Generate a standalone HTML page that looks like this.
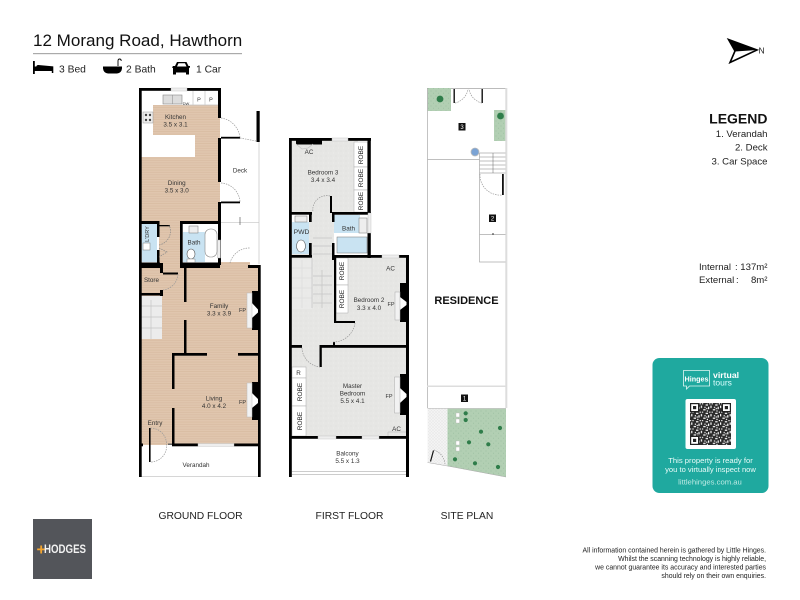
<!DOCTYPE html>
<html><head><meta charset="utf-8"><style>
html,body{margin:0;padding:0;background:#fff}
svg{display:block}
text{font-family:"Liberation Sans",sans-serif;fill:#222}
.r{font-size:6.3px;text-anchor:middle;fill:#333}
.w{fill:#000}
.d{fill:none;stroke:#999;stroke-width:.7;stroke-dasharray:1.5 1}
.t{stroke:#c4c4c4;stroke-width:.7;fill:none}
</style></head><body>
<svg width="800" height="600" viewBox="0 0 800 600" xmlns="http://www.w3.org/2000/svg">
<defs>
<pattern id="wood" width="4" height="2.4" patternUnits="userSpaceOnUse"><rect width="4" height="2.4" fill="#e0c6ae"/><rect y="1.7" width="4" height=".7" fill="#d8bba1"/></pattern>
<pattern id="carpet" width="5" height="5" patternUnits="userSpaceOnUse"><rect width="5" height="5" fill="#e6e6e4"/><circle cx="1" cy="1" r=".5" fill="#dcdcda"/><circle cx="3.5" cy="3" r=".5" fill="#eeeeec"/></pattern>
<pattern id="grass" width="5" height="5" patternUnits="userSpaceOnUse"><rect width="5" height="5" fill="#b2cfb3"/><circle cx="1" cy="1" r=".5" fill="#98bb9c"/><circle cx="3.5" cy="3.2" r=".5" fill="#9cc0a0"/></pattern>
<pattern id="grav" width="3" height="3" patternUnits="userSpaceOnUse"><rect width="3" height="3" fill="#f3f3f3"/><circle cx="1" cy="1" r=".4" fill="#bbb"/><circle cx="2.4" cy="2.3" r=".3" fill="#ccc"/></pattern>
<pattern id="qr" width="9.6" height="8.4" patternUnits="userSpaceOnUse"><rect width="9.6" height="8.4" fill="#2a2a2a"/><g fill="#fff"><rect x="1.2" y="0" width="1.2" height="1.2"/><rect x="4.8" y="1.2" width="2.4" height="1.2"/><rect x="0" y="2.4" width="1.2" height="2.4"/><rect x="3.6" y="3.6" width="1.2" height="1.2"/><rect x="7.2" y="3.6" width="1.2" height="2.4"/><rect x="2.4" y="6" width="2.4" height="1.2"/><rect x="6" y="7.2" width="1.2" height="1.2"/><rect x="8.4" y="0" width="1.2" height="1.2"/><rect x="5.4" y="4.8" width="1.2" height="1.2"/></g></pattern>
</defs>

<!-- header -->
<text x="33" y="46" style="font-size:17.05px;fill:#111">12 Morang Road, Hawthorn</text>
<rect x="33" y="53" width="209" height="1.2" fill="#aaa"/>
<g fill="#000">
<path d="M33 61h1.8v5.5h1.5a2 2 0 0 1 2-1.5l15 1.4v6.6h-1.5v-2H34.8v3H33z"/>
<path d="M103 66.5h19v2q-.5 4.5-5 5h-9q-4.5-.5-5-5z"/><path d="M118 66v-5q0-2 1.6-2t1.6 2" fill="none" stroke="#000" stroke-width=".9"/>
<path d="M173 66h2l2-4h9.500l2 4h1.500v1.500l-1 .5v6.500h-3v-2h-10v2h-3v-6.500l-1-.5zM178.500 63.200l-1.500 3.300h9.500l-1.500-3.300z" fill-rule="evenodd"/>
</g>
<text x="59" y="72.7" style="font-size:10.3px">3 Bed</text>
<text x="126" y="72.7" style="font-size:10.3px">2 Bath</text>
<text x="196" y="72.7" style="font-size:10.3px">1 Car</text>

<!-- north -->
<path d="M728.5 39.5 L757 50 L730 62.5 L735 51 Z" fill="#fff" stroke="#000" stroke-width="1.6"/>
<path d="M728 39 L757 50 L735 51.5 Z" fill="#000"/>
<text x="758.5" y="53.5" style="font-size:8.5px">N</text>

<!-- legend -->
<text x="767.5" y="123.5" text-anchor="end" style="font-size:14px;font-weight:bold;fill:#111">LEGEND</text>
<text x="767.5" y="137" text-anchor="end" style="font-size:9.6px">1. Verandah</text>
<text x="767.5" y="150.5" text-anchor="end" style="font-size:9.6px">2. Deck</text>
<text x="767.5" y="164.5" text-anchor="end" style="font-size:9.6px">3. Car Space</text>
<text x="699" y="270" style="font-size:9.6px">Internal</text><text x="735" y="270" style="font-size:9.6px">:</text><text x="767.5" y="270" text-anchor="end" style="font-size:9.6px">137m²</text>
<text x="699" y="283" style="font-size:9.6px">External</text><text x="736" y="283" style="font-size:9.6px">:</text><text x="767.5" y="283" text-anchor="end" style="font-size:9.6px">8m²</text>

<!-- GROUND FLOOR -->
<rect x="153" y="105" width="67" height="30" fill="url(#wood)"/>
<rect x="195" y="135" width="25" height="22" fill="url(#wood)"/>
<rect x="141" y="157" width="79" height="65" fill="url(#wood)"/>
<rect x="159" y="222" width="21" height="46" fill="url(#wood)"/>
<rect x="142" y="224" width="15" height="38" fill="#c9e3f2"/>
<rect x="183" y="232" width="22" height="30" fill="#c9e3f2"/>
<rect x="141" y="265" width="117" height="180" fill="url(#wood)"/>
<rect x="218" y="262" width="32" height="6" fill="url(#wood)"/>
<rect x="141" y="296" width="21" height="43" fill="#ececec"/>
<path d="M141 306h21M141 317h21M141 328h21M151 300v39" class="t"/>
<rect x="141" y="446" width="117" height="30" fill="#fff"/>
<rect x="141" y="476" width="117" height=".8" fill="#ccc"/>
<g class="w">
<rect x="139" y="88" width="2.7" height="389"/>
<rect x="139" y="88" width="32" height="2.8"/><rect x="187" y="88" width="34" height="2.8"/>
<rect x="218" y="88" width="3" height="30"/><rect x="218" y="138" width="3" height="44"/><rect x="218" y="202" width="3" height="63"/>
<rect x="221" y="136.8" width="19" height="1.8"/><rect x="221" y="201.5" width="19" height="1.8"/>
<rect x="141" y="221" width="18" height="3"/><rect x="180" y="221" width="41" height="3"/>
<rect x="157" y="221" width="2.5" height="16"/><rect x="157" y="250" width="2.5" height="14"/>
<rect x="159" y="225" width="11" height="1.3"/>
<rect x="180" y="221" width="2.7" height="47"/>
<rect x="141" y="262.5" width="19" height="2.5"/><rect x="182" y="262.5" width="39" height="2.5"/>
<rect x="141" y="265" width="21" height="3"/><rect x="182" y="265" width="38" height="3"/><rect x="248" y="265" width="12" height="3"/>
<rect x="258" y="265" width="2.7" height="212"/>
<rect x="160" y="263" width="3" height="10"/><rect x="163" y="272.5" width="15" height="2"/>
<rect x="141" y="293" width="22" height="2.5"/><rect x="160" y="290" width="3" height="6"/>
<rect x="184" y="267" width="2.5" height="35"/><rect x="184" y="320" width="2.5" height="34"/>
<rect x="172" y="353" width="35" height="2.7"/><rect x="238" y="353" width="20" height="2.7"/>
<rect x="172" y="353" width="2.5" height="36"/><rect x="172" y="408" width="2.5" height="38"/>
<rect x="172" y="443.5" width="26" height="2.8"/><rect x="234" y="443.5" width="25" height="2.8"/>
<rect x="141" y="443.5" width="2" height="2.8"/><rect x="168" y="443.5" width="4" height="1.5" fill="#666"/>
<rect x="149" y="428" width="1.6" height="34"/>
<rect x="252" y="291" width="6" height="39"/><rect x="252" y="382" width="6" height="38"/>
</g>
<path d="M252 303L258 309.5v3L252 318z" fill="#fff"/><path d="M252 393L258 399v4L252 408z" fill="#fff"/>
<rect x="247" y="293" width="5" height="35" fill="#f2f2f2" stroke="#bbb" stroke-width=".5"/>
<rect x="247" y="383" width="5" height="34" fill="#f2f2f2" stroke="#bbb" stroke-width=".5"/>
<rect x="198" y="443.5" width="36" height="2.8" fill="#eee" stroke="#bbb" stroke-width=".4"/>
<rect x="171" y="88" width="16" height="3" fill="#eee" stroke="#bbb" stroke-width=".4"/>
<!-- kitchen fittings -->
<rect x="163" y="95" width="19" height="9" fill="#ddd" stroke="#888" stroke-width=".6"/>
<path d="M172.5 95v9" stroke="#888" stroke-width=".5"/>
<path d="M193 91v14M205 91v14M183 105H218" class="t"/>
<text x="199" y="101.5" class="r" style="font-size:5.5px">P</text>
<text x="211" y="101.5" class="r" style="font-size:5.5px">P</text>
<text x="186" y="105" class="r" style="font-size:4px">DW</text>
<rect x="143" y="112" width="10" height="11" fill="#eee" stroke="#999" stroke-width=".5"/>
<circle cx="146" cy="115" r="1.2" fill="#444"/><circle cx="150" cy="115" r="1.2" fill="#444"/><circle cx="146" cy="120" r="1.2" fill="#444"/><circle cx="150" cy="120" r="1.2" fill="#444"/>
<!-- deck -->
<rect x="256.5" y="111" width="3.2" height="31" fill="#000"/>
<path d="M259 142V264M221 222.7H259" class="t"/>
<path d="M240 225v-8" stroke="#444" stroke-width=".6"/>
<path d="M221 118a22 22 0 0 1 19 20M240 138l16 3M221 183a20 20 0 0 1 19 19M230 263a20 20 0 0 1 20-15" class="d"/>
<!-- bath -->
<rect x="205" y="229" width="12" height="28" rx="5.5" fill="#fff" stroke="#888" stroke-width=".6"/>
<rect x="217.5" y="240" width="3" height="18" fill="#eee" stroke="#aaa" stroke-width=".4"/>
<ellipse cx="191" cy="254" rx="4" ry="5" fill="#fff" stroke="#555" stroke-width=".6"/>
<rect x="187" y="259" width="8" height="3.5" fill="#fff" stroke="#888" stroke-width=".5"/>
<rect x="189" y="226" width="9" height="7" fill="#eee" stroke="#777" stroke-width=".5"/>
<rect x="143" y="243" width="7" height="7" fill="#fff" stroke="#777" stroke-width=".5"/>
<path d="M159 245a14 14 0 0 0 10-20M159 248l8 4-8 5" class="d" style="stroke:#888"/>
<path d="M178 274a17 17 0 0 1-15 16M150.5 428a16 16 0 0 1 16 16M166.5 444a16 16 0 0 1-16 18" class="d"/>
<text x="175.5" y="119" class="r">Kitchen</text>
<text x="175.5" y="126.5" class="r">3.5 x 3.1</text>
<text x="176.7" y="185" class="r">Dining</text>
<text x="176.7" y="192.5" class="r">3.5 x 3.0</text>
<text x="240" y="172.5" class="r">Deck</text>
<text x="194" y="244.5" class="r">Bath</text>
<text transform="translate(149,234) rotate(-90)" class="r" style="font-size:5.5px">L'DRY</text>
<text x="151.5" y="282" class="r">Store</text>
<text x="219" y="308" class="r">Family</text>
<text x="219" y="315.5" class="r">3.3 x 3.9</text>
<text x="242.5" y="312" class="r" style="font-size:5.5px">FP</text>
<text x="214" y="400.5" class="r">Living</text>
<text x="214" y="408" class="r">4.0 x 4.2</text>
<text x="242.5" y="404" class="r" style="font-size:5.5px">FP</text>
<text x="155" y="425" class="r">Entry</text>
<text x="196" y="467" class="r">Verandah</text>

<!-- FIRST FLOOR -->
<rect x="292" y="140" width="66" height="297" fill="url(#carpet)"/>
<rect x="332" y="258" width="74" height="90" fill="url(#carpet)"/>
<rect x="292" y="345" width="115" height="92" fill="url(#carpet)"/>
<rect x="292" y="222" width="17" height="32" fill="#c9e3f2"/>
<rect x="292" y="214" width="17" height="8" fill="#fff"/>
<rect x="334" y="215" width="33" height="40" fill="#fff"/>
<rect x="334" y="215" width="26" height="18" fill="#c9e3f2"/>
<rect x="337" y="237" width="30" height="16" fill="#c9e3f2" stroke="#777" stroke-width=".5"/>
<path d="M292 268h20M292 278h20M292 288h20M292 298h20M302 260v48M313 238h19M313 246h19M313 254h19M313 276h19M313 285h19M313 294h19M313 303h19M322 270v38" class="t"/>
<rect x="292" y="259" width="20" height="50" fill="#ededed" opacity=".6"/>
<path d="M312 258v50" class="t"/>
<g fill="#fff" stroke="#aaa" stroke-width=".5">
<rect x="354" y="142" width="13.5" height="25"/><rect x="354" y="167" width="13.5" height="23"/><rect x="354" y="190" width="13.5" height="22"/>
<rect x="336" y="258" width="12" height="27"/><rect x="336" y="285" width="12" height="28"/>
<rect x="292" y="367" width="14" height="11"/><rect x="292" y="378" width="14" height="28"/><rect x="292" y="406" width="14" height="30"/>
</g>
<g text-anchor="middle">
<text transform="translate(363,155) rotate(-90)" style="font-size:6.5px">ROBE</text>
<text transform="translate(363,178) rotate(-90)" style="font-size:6.5px">ROBE</text>
<text transform="translate(363,201) rotate(-90)" style="font-size:6.5px">ROBE</text>
<text transform="translate(344,271) rotate(-90)" style="font-size:6.5px">ROBE</text>
<text transform="translate(344,299) rotate(-90)" style="font-size:6.5px">ROBE</text>
<text transform="translate(302,392) rotate(-90)" style="font-size:6.5px">ROBE</text>
<text transform="translate(302,421) rotate(-90)" style="font-size:6.5px">ROBE</text>
</g>
<text x="298.5" y="375" class="r">R</text>
<g class="w">
<rect x="289" y="138" width="2.8" height="339"/>
<rect x="289" y="138" width="43" height="2.8"/><rect x="348" y="138" width="23" height="2.8"/>
<rect x="296" y="140" width="26" height="4.5"/>
<rect x="367.5" y="138" width="3.3" height="75"/>
<rect x="289" y="212" width="23" height="2.7"/><rect x="309" y="212" width="2.7" height="10"/>
<rect x="332" y="212" width="39" height="2.7"/>
<rect x="330" y="196" width="2" height="17"/><rect x="332" y="212" width="2.5" height="10"/>
<rect x="332" y="243" width="2.5" height="17"/>
<rect x="309" y="243" width="2.7" height="14"/>
<rect x="367.5" y="233" width="3.3" height="25"/>
<rect x="334" y="255" width="48" height="2.8"/><rect x="399" y="255" width="10" height="2.8"/>
<rect x="406" y="255" width="3" height="222"/>
<rect x="289" y="255" width="23" height="2.7"/>
<rect x="334" y="255" width="2.2" height="68"/><rect x="334" y="321" width="21" height="2"/>
<rect x="400" y="283" width="6.5" height="39"/><rect x="400" y="374" width="6.5" height="41"/>
<rect x="291" y="345" width="11" height="2.8"/><rect x="320" y="345" width="87" height="2.8"/>
<rect x="319.5" y="345" width="2.3" height="22"/><rect x="333" y="342" width="2" height="3"/>
<rect x="291" y="436" width="27" height="2.8"/><rect x="336" y="436" width="26" height="2.8"/><rect x="379" y="436" width="28" height="2.8"/>
</g>
<path d="M400 297L406.5 302v3L400 310z" fill="#fff"/><path d="M400 388L406.5 394v3L400 403z" fill="#fff"/>
<rect x="395" y="292" width="5" height="28" fill="#f2f2f2" stroke="#aaa" stroke-width=".5"/>
<rect x="394.5" y="377" width="5.5" height="36" fill="#f2f2f2" stroke="#aaa" stroke-width=".5"/>
<rect x="332" y="138" width="16" height="3" fill="#eee" stroke="#bbb" stroke-width=".4"/>
<rect x="318" y="436" width="18" height="3" fill="#eee" stroke="#bbb" stroke-width=".4"/>
<rect x="362" y="436" width="17" height="3" fill="#eee" stroke="#bbb" stroke-width=".4"/>
<rect x="382" y="255" width="17" height="3" fill="#eee" stroke="#bbb" stroke-width=".4"/>
<rect x="368" y="213" width="3" height="20" fill="#eee" stroke="#bbb" stroke-width=".4"/>
<rect x="292" y="471" width="114" height="1" fill="#ccc"/><rect x="292" y="474" width="114" height="1" fill="#ccc"/>
<path d="M296 144l6 5 6-1 5-4M388 432h18M388 432v4" class="t"/>
<path d="M330 196a14 14 0 0 0-17 16M355 323a22 22 0 0 1-22 19M302 348a20 20 0 0 0 18 19" class="d"/>
<ellipse cx="301" cy="246" rx="4.5" ry="6" fill="#fff" stroke="#555" stroke-width=".6"/>
<rect x="295" y="216" width="12" height="6" fill="#eee" stroke="#777" stroke-width=".5"/>
<rect x="359" y="218" width="8" height="15" fill="#eee" stroke="#777" stroke-width=".5"/>
<text x="323" y="174.5" class="r">Bedroom 3</text><text x="323" y="182" class="r">3.4 x 3.4</text>
<text x="301.5" y="234" class="r" style="font-size:6.8px">PWD</text>
<text x="348.5" y="230.5" class="r">Bath</text>
<text x="309" y="154" class="r">AC</text>
<text x="390.5" y="270.5" class="r">AC</text>
<text x="369" y="302" class="r">Bedroom 2</text><text x="369" y="310" class="r">3.3 x 4.0</text>
<text x="391" y="306" class="r" style="font-size:5.5px">FP</text>
<text x="352.5" y="388" class="r">Master</text><text x="352.5" y="395.5" class="r">Bedroom</text><text x="352.5" y="403" class="r">5.5 x 4.1</text>
<text x="389" y="398" class="r" style="font-size:5.5px">FP</text>
<text x="396.5" y="431" class="r">AC</text>
<text x="347.5" y="455.5" class="r">Balcony</text><text x="347.5" y="463" class="r">5.5 x 1.3</text>

<!-- SITE PLAN -->
<rect x="427" y="88" width="80" height="1" fill="#bbb"/>
<rect x="427.5" y="88" width="23.5" height="23" fill="url(#grass)"/>
<circle cx="440" cy="99" r="3.4" fill="#2f7d4a"/>
<rect x="494" y="110" width="11.5" height="31" fill="url(#grass)"/>
<circle cx="500.5" cy="116" r="3.4" fill="#2f7d4a"/>
<rect x="505.3" y="88" width="2" height="320" fill="#ddd"/>
<rect x="453.5" y="89" width="1.4" height="14" fill="#111"/>
<rect x="481.5" y="89" width="1.4" height="14" fill="#111"/>
<path d="M455 103a17 17 0 0 0 13-14M482 103a17 17 0 0 1-13-14" class="d"/>
<path d="M427.5 88V408M427.5 159.5H479.5M479.5 153V262H505.5M479.5 153H505.5M479.5 157H505.5M479.5 161H505.5M479.5 165H505.5M479.5 169H505.5M479.5 173H505.5M479.5 234.5H505.5" style="fill:none;stroke:#aaa;stroke-width:.7"/>
<path d="M493 153v20" stroke="#666" stroke-width=".5"/>
<circle cx="475" cy="152" r="4" fill="#7ba3d4" stroke="#bbb" stroke-width=".8"/>
<rect x="502" y="174" width="1.8" height="21" fill="#111"/>
<path d="M480 174a20 20 0 0 0 22 21" class="d"/>
<rect x="492.5" y="233" width="1" height="2" fill="#333"/>
<rect x="458.5" y="123" width="7" height="7.5" fill="#111"/><text x="462" y="129" text-anchor="middle" style="font-size:6px;fill:#fff">3</text>
<rect x="489" y="214.5" width="7" height="7.5" fill="#111"/><text x="492.5" y="220.5" text-anchor="middle" style="font-size:6px;fill:#fff">2</text>
<rect x="461" y="394.5" width="7" height="7.5" fill="#111"/><text x="464.5" y="400.5" text-anchor="middle" style="font-size:6px;fill:#fff">1</text>
<rect x="427" y="385.5" width="80" height="1.5" fill="#ddd"/>
<path d="M427.5 408.5H447.5V466L427.5 462.5Z" fill="url(#grav)"/>
<path d="M447.5 408.5H506V477L447.5 466Z" fill="url(#grass)"/>
<path d="M427.5 408.5H506M427.5 462.5L447.5 466L506 477" style="fill:none;stroke:#aaa;stroke-width:.6"/>
<path d="M430.5 461.5l3-11" stroke="#111" stroke-width="1.2"/>
<path d="M434 450a16 16 0 0 1 11 15" class="d"/>
<g fill="#2f7d4a"><circle cx="465.7" cy="413.3" r="2.1"/><circle cx="465.7" cy="420" r="2.1"/><circle cx="481" cy="431.7" r="2.1"/><circle cx="500" cy="428" r="2.1"/><circle cx="469" cy="442.3" r="2.1"/><circle cx="488.3" cy="444.3" r="2.1"/><circle cx="455" cy="459.3" r="2.1"/><circle cx="475" cy="463.3" r="2.1"/><circle cx="498" cy="467" r="2.1"/></g>
<g fill="#fff" stroke="#bbb" stroke-width=".4"><rect x="456" y="413" width="3.5" height="4"/><rect x="456" y="419" width="3.5" height="4"/><rect x="456" y="441" width="3.5" height="4"/><rect x="456" y="447" width="3.5" height="4"/></g>
<text x="466.5" y="304" text-anchor="middle" style="font-size:11px;font-weight:bold;fill:#111">RESIDENCE</text>

<!-- captions -->
<text x="200.5" y="519" text-anchor="middle" style="font-size:10.3px">GROUND FLOOR</text>
<text x="349.5" y="519" text-anchor="middle" style="font-size:10.3px">FIRST FLOOR</text>
<text x="467" y="519" text-anchor="middle" style="font-size:10.3px">SITE PLAN</text>

<!-- Hinges card -->
<rect x="652.5" y="358" width="116" height="135" rx="7" fill="#1fa99f"/>
<path d="M683.5 370.5h26v15.5h-20l-3 3v-3h-3z" fill="none" stroke="#e4f7f4" stroke-width=".8"/>
<text x="696.5" y="381.5" text-anchor="middle" style="font-size:7.2px;font-weight:bold;fill:#fff">Hinges</text>
<text x="713" y="378" style="font-size:8.7px;font-weight:bold;fill:#fff">virtual</text>
<text x="713" y="385.5" style="font-size:8.5px;fill:#dff">tours</text>
<rect x="685.5" y="399" width="50.5" height="50" rx="2" fill="#fff"/>
<rect x="690" y="403" width="41" height="42" fill="url(#qr)"/>
<g fill="#fff" stroke="#222" stroke-width="1.2"><rect x="690.6" y="403.6" width="8" height="8"/><rect x="722.4" y="403.6" width="8" height="8"/><rect x="690.6" y="436.4" width="8" height="8"/></g>
<g fill="#222"><rect x="693" y="406" width="3.2" height="3.2"/><rect x="724.8" y="406" width="3.2" height="3.2"/><rect x="693" y="438.8" width="3.2" height="3.2"/></g>
<text x="710.5" y="463" text-anchor="middle" style="font-size:7.65px;fill:#e8fbf8">This property is ready for</text>
<text x="710.5" y="472" text-anchor="middle" style="font-size:7.6px;fill:#e8fbf8">you to virtually inspect now</text>
<text x="710" y="484.5" text-anchor="middle" style="font-size:7.7px;fill:#bdeae4">littlehinges.com.au</text>

<!-- Hodges -->
<rect x="33" y="519" width="59" height="60" fill="#53555a"/>
<text x="36.5" y="554.5" style="font-size:16px;font-weight:bold;fill:#f4a52f">+</text>
<text x="44" y="553" style="font-size:12px;font-weight:bold;fill:#f2f2f2" textLength="42" lengthAdjust="spacingAndGlyphs">HODGES</text>

<!-- disclaimer -->
<g style="font-size:6.9px" text-anchor="end">
<text x="766" y="552.5">All information contained herein is gathered by Little Hinges.</text>
<text x="766" y="561">Whilst the scanning technology is highly reliable,</text>
<text x="766" y="569.5">we cannot guarantee its accuracy and interested parties</text>
<text x="766" y="578">should rely on their own enquiries.</text>
</g>
</svg>
</body></html>
